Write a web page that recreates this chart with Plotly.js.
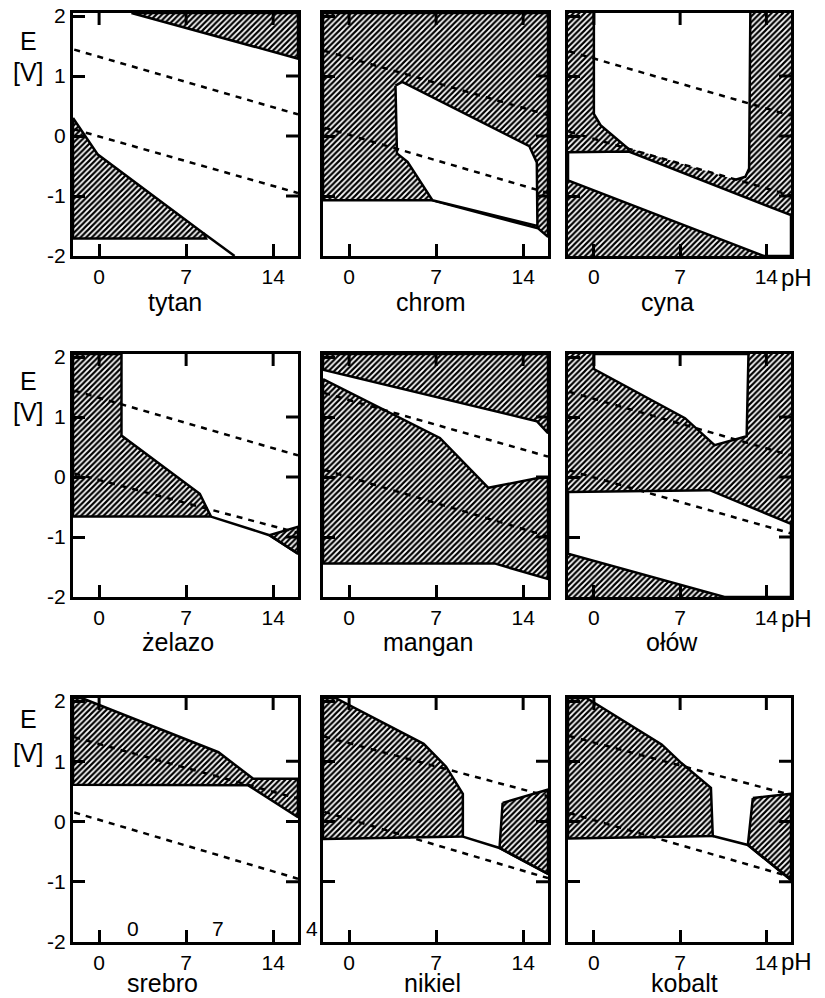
<!DOCTYPE html>
<html><head><meta charset="utf-8">
<script src="https://cdn.plot.ly/plotly-3.0.1.min.js"></script>
<style>body{margin:0;background:#fff}#chart{width:825px;height:998px}</style>
</head><body><div id="chart"></div>
<script>
// ---------- DATA ----------
const panelNames = ['tytan','chrom','cyna','żelazo','mangan','ołów','srebro','nikiel','kobalt'];
const xTickVals = [0, 7, 14];
const xTickText = ['0', '7', '14'];
const yTickVals = [-2, -1, 0, 1, 2];
const yTickText = ['-2', '-1', '0', '1', '2'];
const yTickMarks = [-1, 0, 1];
const pHRange = [-2.1, 16];
const ERange = [-2, 2.05];
const fullFrame = [[-2.1,2.05],[16,2.05],[16,-2],[-2.1,-2]];

// tytan
const tytanHatchTop = [[2.6,2.05],[16,2.05],[16,1.29]];
const tytanHatchLow = [[-2.1,0.3],[-0.1,-0.31],[8.4,-1.62],[8.6,-1.71],[-2.1,-1.71]];
const tytanLine = [[8.4,-1.62],[10.9,-2.0]];
const tytanO2 = [[-2,1.44],[16,0.36]];
const tytanH2 = [[-2,0.11],[16,-0.95]];
// chrom
const chromHatch = [[-2.1,2.05],[16,2.05],[16,-1.68],[15.2,-1.54],[6.7,-1.07],[-2.1,-1.07]];
const chromWhite = [[3.73,0.84],[4.27,0.9],[14.5,-0.17],[15.1,-0.44],[15.15,-1.5],[6.7,-1.07],[4.7,-0.43],[3.85,-0.29]];
const chromO2 = [[-2,1.42],[16,0.35]];
const chromH2 = [[-2,0.14],[16,-0.95]];
// cyna
const cynaWhiteTop = [[0,2.05],[0,0.37],[0.54,0.18],[2.84,-0.2],[11.5,-0.73],[12.3,-0.68],[12.6,-0.54],[12.7,2.05]];
const cynaWhiteBand = [[-2.1,-0.27],[2.84,-0.26],[16,-1.32],[16,-2],[13.8,-2],[-2.1,-0.74]];
const cynaLineLeft = [[0,2.05],[0,0.37],[0.54,0.18],[2.84,-0.22]];
const cynaLineRight = [[12.7,2.05],[12.6,-0.54],[12.3,-0.68],[11.5,-0.73]];
const cynaO2 = [[-2,1.41],[16,0.34]];
const cynaH2 = [[-2,0.07],[16,-0.99]];
// żelazo
const zelazoHatch = [[-2.1,2.05],[1.8,2.05],[1.8,0.69],[8.1,-0.28],[9.0,-0.66],[-2.1,-0.66]];
const zelazoHatchSmall = [[13.7,-0.97],[16,-0.83],[16,-1.28]];
const zelazoLine = [[9.0,-0.66],[13.7,-0.97],[16,-1.28]];
const zelazoO2 = [[-2,1.44],[16,0.36]];
const zelazoH2 = [[-2,0.06],[16,-0.93]];
// mangan
const manganHatchTop = [[-2.1,2.05],[16,2.05],[16,0.73],[15.1,0.93],[-2.1,1.79]];
const manganHatchMid = [[-2.1,1.63],[7.3,0.65],[11.2,-0.18],[15.1,-0.02],[16,-0.01],[16,-1.7],[11.7,-1.44],[-2.1,-1.44]];
const manganO2 = [[-2,1.40],[16,0.34]];
const manganH2 = [[-2,0.12],[16,-0.99]];
// ołów
const olowWhiteTop = [[0,2.05],[0,1.8],[7.4,0.98],[9.8,0.53],[12.4,0.68],[12.55,2.05]];
const olowWhiteBand = [[-2.1,-0.25],[9.4,-0.22],[16,-0.78],[16,-2],[10.6,-2],[-2.1,-1.28]];
const olowO2 = [[-2,1.42],[16,0.36]];
const olowH2 = [[-2,0.11],[16,-0.94]];
// srebro
const srebroHatch = [[-2.1,2.05],[-1.4,2.05],[9.6,1.15],[12.4,0.71],[16,0.71],[16,0.07],[12.0,0.6],[-2.1,0.61]];
const srebroO2 = [[-2,1.40],[16,0.38]];
const srebroH2 = [[-2,0.15],[16,-0.95]];
// nikiel
const nikielHatchLeft = [[-2.1,2.05],[-1.1,2.05],[6.0,1.29],[7.8,0.91],[9.15,0.46],[9.15,-0.25],[-2.1,-0.29]];
const nikielHatchRight = [[12.35,0.31],[16,0.53],[16,-0.87],[12.1,-0.44]];
const nikielLine = [[9.15,-0.25],[12.1,-0.44],[16,-0.87]];
const nikielO2 = [[-2,1.41],[16,0.42]];
const nikielH2 = [[-2,0.16],[16,-0.94]];
// kobalt
const kobaltHatchLeft = [[-2.1,2.05],[-0.6,2.05],[5.5,1.28],[7.1,0.97],[9.5,0.56],[9.65,-0.24],[-2.1,-0.28]];
const kobaltHatchRight = [[12.9,0.39],[16,0.46],[16,-0.97],[12.5,-0.39]];
const kobaltLine = [[9.65,-0.24],[12.5,-0.39],[16,-0.97]];
const kobaltO2 = [[-2,1.42],[16,0.44]];
const kobaltH2 = [[-2,0.14],[16,-0.92]];

// stray duplicated tick labels inside the srebro panel
const strayLabels = ['0', '7', '4'];

// ---------- BUILD ----------
const panels = [
  {bgHatch:false, hatch:[tytanHatchTop, tytanHatchLow], white:[], whiteOpen:[], lines:[tytanLine], dashed:[tytanO2, tytanH2]},
  {bgHatch:false, hatch:[chromHatch], white:[chromWhite], whiteOpen:[], lines:[], dashed:[chromO2, chromH2]},
  {bgHatch:true, hatch:[], white:[cynaWhiteBand], whiteOpen:[cynaWhiteTop], lines:[cynaLineLeft, cynaLineRight], dashed:[cynaO2, cynaH2]},
  {bgHatch:false, hatch:[zelazoHatch, zelazoHatchSmall], white:[], whiteOpen:[], lines:[zelazoLine], dashed:[zelazoO2, zelazoH2]},
  {bgHatch:false, hatch:[manganHatchTop, manganHatchMid], white:[], whiteOpen:[], lines:[], dashed:[manganO2, manganH2]},
  {bgHatch:true, hatch:[], white:[olowWhiteTop, olowWhiteBand], whiteOpen:[], lines:[], dashed:[olowO2, olowH2]},
  {bgHatch:false, hatch:[srebroHatch], white:[], whiteOpen:[], lines:[], dashed:[srebroO2, srebroH2]},
  {bgHatch:false, hatch:[nikielHatchLeft, nikielHatchRight], white:[], whiteOpen:[], lines:[nikielLine], dashed:[nikielO2, nikielH2]},
  {bgHatch:false, hatch:[kobaltHatchLeft, kobaltHatchRight], white:[], whiteOpen:[], lines:[kobaltLine], dashed:[kobaltO2, kobaltH2]}
];

const W = 825, H = 998;
const colPx = [[73,298],[323,548],[568,791]];
const rowPx = [[13,256],[354,597],[698,942]];
const FONT = 'Liberation Sans, Arial, sans-serif';
const hatchPattern = {shape:'/', fgcolor:'#000', bgcolor:'#fff', size:4, solidity:0.55};
const LW = 2.5;
const TICK = 12; // tick length, px

function xy(pts){ return {x: pts.map(p => p[0]), y: pts.map(p => p[1])}; }

const traces = [];
const layout = {
  width: W, height: H, margin:{l:0,r:0,t:0,b:0}, showlegend:false,
  annotations: []
};

panels.forEach((p, i) => {
  const s = i === 0 ? '' : String(i + 1);
  const xa = 'x' + s, ya = 'y' + s;
  const col = i % 3, row = Math.floor(i / 3);
  const base = {type:'scatter', mode:'lines', xaxis:xa, yaxis:ya, hoverinfo:'skip'};
  if (p.bgHatch) {
    const d = xy(fullFrame);
    traces.push(Object.assign({}, base, d, {fill:'toself', fillcolor:'#fff', fillpattern:hatchPattern, line:{width:0}}));
  }
  p.hatch.forEach(poly => {
    const d = xy(poly.concat([poly[0]]));
    traces.push(Object.assign({}, base, d, {fill:'toself', fillcolor:'#fff', fillpattern:hatchPattern, line:{color:'#000', width:LW}}));
  });
  p.whiteOpen.forEach(poly => {
    const d = xy(poly);
    traces.push(Object.assign({}, base, d, {fill:'toself', fillcolor:'#fff', line:{width:0}}));
  });
  p.white.forEach(poly => {
    const d = xy(poly.concat([poly[0]]));
    traces.push(Object.assign({}, base, d, {fill:'toself', fillcolor:'#fff', line:{color:'#000', width:LW}}));
  });
  p.lines.forEach(l => {
    traces.push(Object.assign({}, base, xy(l), {line:{color:'#000', width:LW}}));
  });
  p.dashed.forEach(l => {
    traces.push(Object.assign({}, base, xy(l), {line:{color:'#000', width:LW, dash:'6px,6px'}}));
  });

  // mirrored (top / right) inside tick marks, px length converted to axis units
  const dxUnit = (pHRange[1] - pHRange[0]) / (colPx[col][1] - colPx[col][0]) * TICK;
  const dyUnit = (ERange[1] - ERange[0]) / (rowPx[row][1] - rowPx[row][0]) * TICK;
  xTickVals.forEach(v => {
    traces.push(Object.assign({}, base, xy([[v, ERange[1]], [v, ERange[1] - dyUnit]]), {line:{color:'#000', width:3}}));
  });
  yTickMarks.forEach(v => {
    traces.push(Object.assign({}, base, xy([[pHRange[1], v], [pHRange[1] - dxUnit, v]]), {line:{color:'#000', width:3}}));
  });

  const axCommon = {showgrid:false, zeroline:false, showline:true, mirror:true, linecolor:'#000', linewidth:3,
    ticks:'inside', ticklen:TICK, tickwidth:3, tickcolor:'#000',
    tickfont:{family:FONT, size:21, color:'#000'}};
  layout['xaxis' + s] = Object.assign({}, axCommon, {
    domain:[colPx[col][0]/W, colPx[col][1]/W], range:pHRange, anchor:ya,
    tickvals:xTickVals, ticktext:xTickText});
  layout['yaxis' + s] = Object.assign({}, axCommon, {
    domain:[1 - rowPx[row][1]/H, 1 - rowPx[row][0]/H], range:ERange, anchor:xa,
    tickvals: yTickVals, ticktext: yTickText, showticklabels: col === 0});
});

function ann(text, px, py, size, xanchor) {
  layout.annotations.push({text:text, x:px/W, y:1 - py/H, xref:'paper', yref:'paper', showarrow:false,
    xanchor:xanchor || 'center', yanchor:'middle', font:{family:FONT, size:size, color:'#000'}});
}
const namePos = [[175,302],[430,302],[667,302],[178,642],[428,642],[672,642],[162,983],[432,983],[684,983]];
panelNames.forEach((n, i) => ann(n, namePos[i][0], namePos[i][1], 25));
[[41,72],[381,412],[719,753]].forEach(r => { ann('E', 28, r[0], 25); ann('[V]', 28, r[1], 25); });
[278, 618, 961].forEach(py => ann('pH', 779, py, 24, 'left'));
const strayPos = [[133,928],[218,928],[312,928]];
strayLabels.forEach((t, i) => ann(t, strayPos[i][0], strayPos[i][1], 21));

Plotly.newPlot('chart', traces, layout, {staticPlot:true});
</script>
</body></html>
